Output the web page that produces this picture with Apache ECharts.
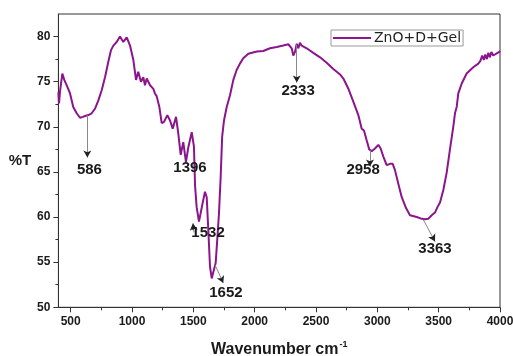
<!DOCTYPE html>
<html>
<head>
<meta charset="utf-8">
<script src="https://cdn.jsdelivr.net/npm/echarts@6/dist/echarts.min.js"></script>
<style>
  html, body { margin: 0; padding: 0; background: #fff; }
  #chart { width: 513px; height: 356px; }
</style>
</head>
<body>
<div id="chart"></div>
<script>
// FTIR spectrum of ZnO+D+Gel: wavenumber (cm-1) vs transmittance (%T)
const wavenumber = [
  400, 405, 413, 432, 448, 468, 495, 521, 549, 576, 600, 617, 644, 671, 698, 725,
  753, 780, 807, 829, 848, 875, 902, 929, 957, 984, 1011, 1033, 1051, 1073, 1092,
  1106, 1120, 1147, 1174, 1187, 1201, 1214, 1223, 1242, 1261, 1288, 1310, 1332,
  1342, 1359, 1377, 1397, 1418, 1440, 1460, 1487, 1505, 1514, 1527, 1546, 1562,
  1581, 1595, 1609, 1622, 1636, 1650, 1663, 1682, 1695, 1709, 1723, 1735, 1750,
  1772, 1799, 1826, 1853, 1880, 1907, 1948, 2017, 2070, 2125, 2180, 2233, 2274,
  2302, 2315, 2329, 2343, 2356, 2369, 2383, 2424, 2478, 2533, 2587, 2641, 2669,
  2696, 2723, 2763, 2804, 2845, 2872, 2891, 2913, 2934, 2954, 2981, 3008, 3027,
  3049, 3076, 3103, 3125, 3144, 3171, 3199, 3234, 3266, 3321, 3363, 3389, 3415,
  3443, 3470, 3490, 3511, 3538, 3565, 3592, 3619, 3633, 3647, 3660, 3688, 3728,
  3782, 3823, 3840, 3855, 3868, 3880, 3893, 3905, 3918, 3930, 3945, 3960, 3994, 4000
];
const transmittance = [
  73.8, 72.6, 73.9, 75.9, 75.2, 74.6, 73.7, 72.2, 71.5, 71.0, 71.1, 71.2, 71.3, 71.5, 72.0, 72.9,
  74.05, 75.5, 77.2, 78.5, 79.0, 79.4, 80.0, 79.4, 79.9, 79.0, 77.4, 75.2, 76.1, 75.0, 75.5,
  74.6, 75.35, 74.6, 74.2, 73.7, 73.4, 73.3, 72.2, 70.4, 70.55, 71.3, 70.7, 69.8,
  70.0, 71.1, 69.3, 66.9, 68.3, 66.1, 67.8, 69.4, 67.8, 63.5, 61.1, 59.5, 59.7,
  61.9, 62.8, 62.2, 58.6, 54.5, 53.2, 53.4, 54.9, 57.5, 60.4, 64.5, 68.9, 70.7,
  72.2, 73.5, 75.2, 76.3, 77.0, 77.6, 78.1, 78.35, 78.4, 78.7, 78.85, 79.0, 79.15,
  78.7, 77.9, 78.3, 79.2, 78.7, 79.3, 79.0, 78.7, 78.2, 77.7, 77.1, 76.4, 76.1,
  75.8, 75.35, 74.25, 72.8, 71.3, 69.8, 69.6, 68.5, 67.5, 67.3, 67.6, 68.0, 67.6,
  66.7, 65.75, 65.9, 65.9, 65.2, 63.7, 62.2, 61.0, 60.2, 60.0, 59.8, 59.75, 59.8,
  60.2, 60.5, 61.1, 61.6, 63.0, 64.9, 67.5, 70.0, 71.5, 72.2, 73.7, 74.8, 75.9,
  76.6, 77.0, 77.3, 77.9, 77.4, 78.0, 77.5, 78.2, 77.7, 78.3, 77.9, 78.1, 78.3, 78.4
];

// Axis ticks
const xMajorTicks = [500, 1000, 1500, 2000, 2500, 3000, 3500, 4000];
const xMinorTicks = [750, 1250, 1750, 2250, 2750, 3250, 3750];
const yMajorTicks = [50, 55, 60, 65, 70, 75, 80];
const yMinorTicks = [52.5, 57.5, 62.5, 67.5, 72.5, 77.5];

// Peak annotations: label text, label anchor [cm-1, %T], arrow from/to [cm-1, %T]
const peakNames = ['586', '1396', '1532', '1652', '2333', '2958', '3363'];
const peakLabelAt = [
  [653, 65.25], [1473, 65.4], [1620, 58.2], [1766, 51.6],
  [2354, 74.0], [2884, 65.2], [3470, 56.45]
];
const peakArrowFrom = [
  [636, 71.3], null, [1505, 58.3], [1677, 54.7],
  [2343, 79.1], [2940, 67.4], [3375, 59.7]
];
const peakArrowTo = [
  [636, 66.6], null, [1497, 59.3], [1744, 52.7],
  [2343, 74.9], [2940, 65.6], [3470, 57.3]
];

const FONT = '"Liberation Sans", Arial, sans-serif';
const lineColor = '#8c148c';

const chart = echarts.init(document.getElementById('chart'), null, { renderer: 'canvas' });

const spectrum = wavenumber.map((w, i) => [w, transmittance[i]]);

// Gray leader lines with dark arrow heads
const arrowLines = [];
const arrowHeads = [];
peakArrowFrom.forEach((from, i) => {
  if (from) {
    arrowLines.push([{ coord: from }, { coord: peakArrowTo[i] }]);
    arrowHeads.push([{ coord: from }, { coord: peakArrowTo[i] }]);
  }
});

const labelData = peakNames.map((name, i) => ({
  coord: peakLabelAt[i],
  value: name,
  symbol: 'circle',
  symbolSize: 0,
  label: {
    show: true,
    position: 'inside',
    formatter: name,
    fontFamily: FONT,
    fontWeight: 'bold',
    fontSize: 15,
    color: '#1a1a1a'
  }
}));

const plainNumber = v => String(v);

const baseX = { type: 'value', min: 400, max: 4000, gridIndex: 0 };
const baseY = { type: 'value', min: 50, max: 82.5, gridIndex: 0 };

chart.setOption({
  animation: false,
  backgroundColor: '#fff',
  grid: {
    left: 58.4, right: 13, top: 14, bottom: 48.7,
    outerBoundsMode: 'none',
    containLabel: false,
    show: true, borderColor: '#333', borderWidth: 1, backgroundColor: 'transparent'
  },
  legend: {
    data: ['ZnO+D+Gel'],
    left: 331, top: 30,
    icon: 'rect',
    itemWidth: 38, itemHeight: 2, itemGap: 0,
    padding: [1, 2, 1, 2],
    borderColor: '#999', borderWidth: 1,
    textStyle: { fontFamily: '"DejaVu Sans", sans-serif', fontSize: 14, color: '#222', padding: [0, 0, 0, -2] }
  },
  xAxis: [
    Object.assign({}, baseX, {
      position: 'bottom',
      name: '{a|Wavenumber cm}{s|-1}',
      nameLocation: 'middle',
      nameGap: 33,
      nameTextStyle: {
        rich: {
          a: { fontFamily: FONT, fontWeight: 'bold', fontSize: 16, color: '#1a1a1a' },
          s: { fontFamily: FONT, fontWeight: 'bold', fontSize: 9, color: '#1a1a1a', verticalAlign: 'top', padding: [0, 0, 9, 1] }
        }
      },
      axisLine: { show: true, lineStyle: { color: '#333', width: 1 } },
      axisTick: { show: true, inside: false, length: 5, customValues: xMajorTicks, lineStyle: { color: '#333' } },
      axisLabel: { customValues: xMajorTicks, formatter: plainNumber, margin: 8, fontFamily: FONT, fontWeight: 'bold', fontSize: 12, color: '#1a1a1a' },
      splitLine: { show: false }
    }),
    Object.assign({}, baseX, {
      position: 'bottom',
      axisLine: { show: false },
      axisTick: { show: true, inside: false, length: 3, customValues: xMinorTicks, lineStyle: { color: '#333' } },
      axisLabel: { show: false },
      splitLine: { show: false }
    })
  ],
  yAxis: [
    Object.assign({}, baseY, {
      position: 'left',
      name: '%T',
      nameLocation: 'middle',
      nameRotate: 0,
      nameGap: 24,
      nameTextStyle: { fontFamily: FONT, fontWeight: 'bold', fontSize: 15, color: '#1a1a1a', padding: [7, 0, 0, 0] },
      axisLine: { show: true, lineStyle: { color: '#333', width: 1 } },
      axisTick: { show: true, inside: false, length: 5, customValues: yMajorTicks, lineStyle: { color: '#333' } },
      axisLabel: { customValues: yMajorTicks, formatter: plainNumber, margin: 8, fontFamily: FONT, fontWeight: 'bold', fontSize: 12, color: '#1a1a1a' },
      splitLine: { show: false }
    }),
    Object.assign({}, baseY, {
      position: 'left',
      axisLine: { show: false },
      axisTick: { show: true, inside: false, length: 3, customValues: yMinorTicks, lineStyle: { color: '#333' } },
      axisLabel: { show: false },
      splitLine: { show: false }
    })
  ],
  series: [
    {
      name: 'ZnO+D+Gel',
      type: 'line',
      xAxisIndex: 0,
      yAxisIndex: 0,
      data: spectrum,
      symbol: 'none',
      smooth: false,
      lineStyle: { color: lineColor, width: 2 },
      itemStyle: { color: lineColor },
      markLine: {
        silent: true,
        symbol: ['none', 'none'],
        label: { show: false },
        lineStyle: { color: '#888', width: 1, type: 'solid' },
        data: arrowLines
      },
      markPoint: {
        silent: true,
        data: labelData
      }
    },
    {
      // arrow heads drawn on top of the leader lines
      name: 'arrows',
      type: 'line',
      data: [],
      markLine: {
        silent: true,
        symbol: ['none', 'arrow'],
        symbolSize: [6, 7],
        label: { show: false },
        lineStyle: { color: '#222', width: 0, opacity: 1 },
        data: arrowHeads
      }
    }
  ]
});
</script>
</body>
</html>
